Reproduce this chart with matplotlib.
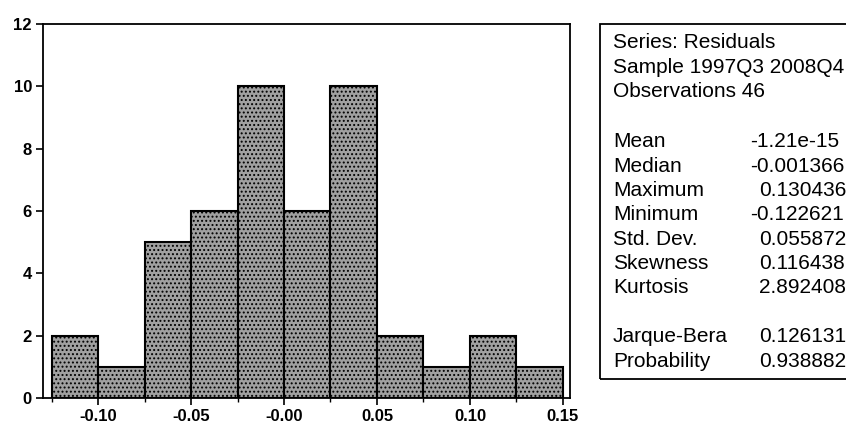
import numpy as np
import matplotlib.pyplot as plt

# ── Data ───────────────────────────────────────────────────────────────────────

bin_edges = [-0.125, -0.100, -0.075, -0.050, -0.025, 0.000,
             0.025, 0.050, 0.075, 0.100, 0.125, 0.150]
counts    = [2, 1, 5, 6, 10, 6, 10, 2, 1, 2, 1]

x_ticks  = [-0.10, -0.05, 0.00, 0.05, 0.10, 0.15]
x_labels = ["-0.10", "-0.05", "-0.00", "0.05", "0.10", "0.15"]
x_minor  = [-0.125, -0.075, -0.025, 0.025, 0.075, 0.125]
y_ticks  = [0, 2, 4, 6, 8, 10, 12]

header = ["Series: Residuals", "Sample 1997Q3 2008Q4", "Observations 46"]
stat_names  = ["Mean", "Median", "Maximum", "Minimum", "Std. Dev.", "Skewness", "Kurtosis"]
stat_values = ["-1.21e-15", "-0.001366", "0.130436", "-0.122621", "0.055872", "0.116438", "2.892408"]
test_names  = ["Jarque-Bera", "Probability"]
test_values = ["0.126131", "0.938882"]

# ── Figure ─────────────────────────────────────────────────────────────────────

plt.rcParams["font.family"] = ["Liberation Sans", "DejaVu Sans"]
plt.rcParams["hatch.linewidth"] = 0.9

fig = plt.figure(figsize=(8.46, 4.26), dpi=100)
ax = fig.add_axes([43 / 846, 28 / 426, 527 / 846, 374 / 426])

edges  = np.array(bin_edges)
widths = np.diff(edges)
ax.bar(edges[:-1], counts, width=widths, align="edge",
       facecolor="#a0a0a0", edgecolor="black", linewidth=1.5, hatch="....")

ax.set_xlim(-0.1296, 0.1538)
ax.set_ylim(0, 12)
ax.set_xticks(x_ticks)
ax.set_xticklabels(x_labels)
ax.set_xticks(x_minor, minor=True)
ax.set_yticks(y_ticks)

for lab in ax.get_xticklabels() + ax.get_yticklabels():
    lab.set_fontweight("bold")
    lab.set_fontsize(12)

ax.tick_params(axis="both", which="major", direction="out", length=5, width=1.2, pad=3)
ax.tick_params(axis="x", which="minor", direction="out", length=3, width=1.0)
for sp in ax.spines.values():
    sp.set_linewidth(1.3)

# ── Statistics box ─────────────────────────────────────────────────────────────

W, H = 846, 426
def fx(px): return px / W
def fy(py): return 1 - py / H

box = plt.Rectangle((fx(600), fy(379)), fx(860) - fx(600), fy(24) - fy(379),
                    transform=fig.transFigure, fill=False, edgecolor="black",
                    linewidth=1.3, clip_on=False)
fig.add_artist(box)

fs = 15
row_h = 24.3
y0 = 43
for i, t in enumerate(header):
    fig.text(fx(613), fy(y0 + i * row_h), t, fontsize=fs, va="center", ha="left")

y1 = 142
for i, (n, v) in enumerate(zip(stat_names, stat_values)):
    y = fy(y1 + i * row_h)
    fig.text(fx(613), y, n, fontsize=fs, va="center", ha="left")
    fig.text(fx(750 if v.startswith("-") else 759), y, v, fontsize=fs, va="center", ha="left")

y2 = 337
for i, (n, v) in enumerate(zip(test_names, test_values)):
    y = fy(y2 + i * row_h)
    fig.text(fx(613), y, n, fontsize=fs, va="center", ha="left")
    fig.text(fx(759), y, v, fontsize=fs, va="center", ha="left")

plt.savefig("out.png", dpi=100)
